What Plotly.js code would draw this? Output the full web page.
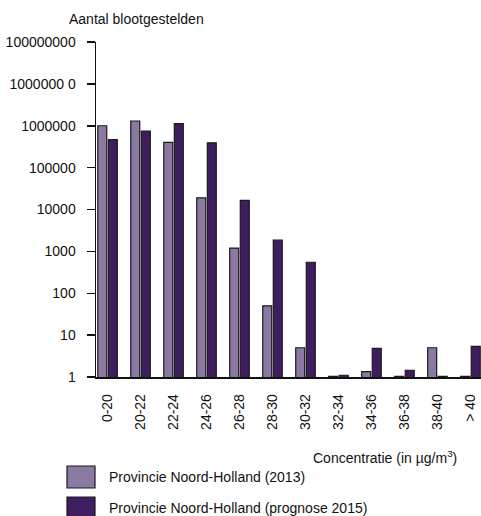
<!DOCTYPE html>
<html>
<head>
<meta charset="utf-8">
<script src="https://cdn.plot.ly/plotly-3.0.1.min.js"></script>
<style>html,body{margin:0;padding:0;background:#fff;}#chart{width:481px;height:516px;}</style>
</head>
<body>
<div id="chart"></div>
<script>
var categories = ['0-20','20-22','22-24','24-26','26-28','28-30','30-32','32-34','34-36','36-38','38-40','> 40'];
var values2013 = [1000000, 1300000, 400000, 19000, 1200, 50, 5, 1.03, 1.35, 1.03, 5, 1.03];
var values2015 = [470000, 750000, 1130000, 390000, 16500, 1850, 550, 1.1, 4.8, 1.45, 1.03, 5.4];
var seriesNames = ['Provincie Noord-Holland (2013)', 'Provincie Noord-Holland (prognose 2015)'];
var tickVals = [1, 10, 100, 1000, 10000, 100000, 1000000, 10000000, 100000000];
var tickText = ['1', '10', '100', '1000', '10000', '100000', '1000000', '1000000 0', '100000000'];

var colLight = '#8b79a3';
var colDark = '#3e1e5e';
var font = {family: 'Liberation Sans, Arial, sans-serif', size: 14, color: '#111'};

var traces = [
  {type: 'bar', x: categories, y: values2013, name: seriesNames[0],
   marker: {color: colLight, line: {color: '#1a1a1a', width: 1.2}}, showlegend: false},
  {type: 'bar', x: categories, y: values2015, name: seriesNames[1],
   marker: {color: colDark, line: {color: '#1a1a1a', width: 1.2}}, showlegend: false}
];

var L = 96, W = 385, T = 42, H = 335;
function px(x){ return (x - L) / W; }
function py(y){ return (T + H - y) / H; }

var layout = {
  width: 481, height: 516,
  margin: {l: L, r: 0, t: T, b: 516 - T - H, pad: 0},
  paper_bgcolor: '#fff', plot_bgcolor: '#fff',
  font: font,
  barmode: 'group', bargap: 0.36, bargroupgap: 0.15,
  xaxis: {
    type: 'category', range: [-0.35, 11.32],
    showline: true, linecolor: '#111', linewidth: 1.5,
    ticks: '', tickangle: -90, ticklabelstandoff: 10,
    showgrid: false, zeroline: false, tickfont: font
  },
  yaxis: {
    type: 'log', range: [0, 8],
    showline: true, linecolor: '#111', linewidth: 1.5,
    ticks: 'outside', ticklen: 8, tickwidth: 1.5, tickcolor: '#111',
    tickvals: tickVals, ticktext: tickText, ticklabelstandoff: 8,
    showgrid: false, zeroline: false, tickfont: font
  },
  annotations: [
    {text: 'Aantal blootgestelden', xref: 'paper', yref: 'paper', x: px(67), y: py(18.5),
     xanchor: 'left', yanchor: 'middle', showarrow: false, font: font},
    {text: 'Concentratie (in µg/m<sup>3</sup>)', xref: 'paper', yref: 'paper', x: px(459), y: py(457),
     xanchor: 'right', yanchor: 'middle', showarrow: false, font: font},
    {text: seriesNames[0], xref: 'paper', yref: 'paper', x: px(107), y: py(477),
     xanchor: 'left', yanchor: 'middle', showarrow: false, font: font},
    {text: seriesNames[1], xref: 'paper', yref: 'paper', x: px(107), y: py(508),
     xanchor: 'left', yanchor: 'middle', showarrow: false, font: font}
  ],
  shapes: [
    {type: 'rect', xref: 'paper', yref: 'paper', x0: px(67), x1: px(95), y0: py(466), y1: py(488),
     fillcolor: colLight, line: {color: '#1a1a1a', width: 1.2}},
    {type: 'rect', xref: 'paper', yref: 'paper', x0: px(67), x1: px(95), y0: py(497), y1: py(519),
     fillcolor: colDark, line: {color: '#1a1a1a', width: 1.2}}
  ]
};

Plotly.newPlot('chart', traces, layout, {staticPlot: true, displayModeBar: false});
</script>
</body>
</html>
